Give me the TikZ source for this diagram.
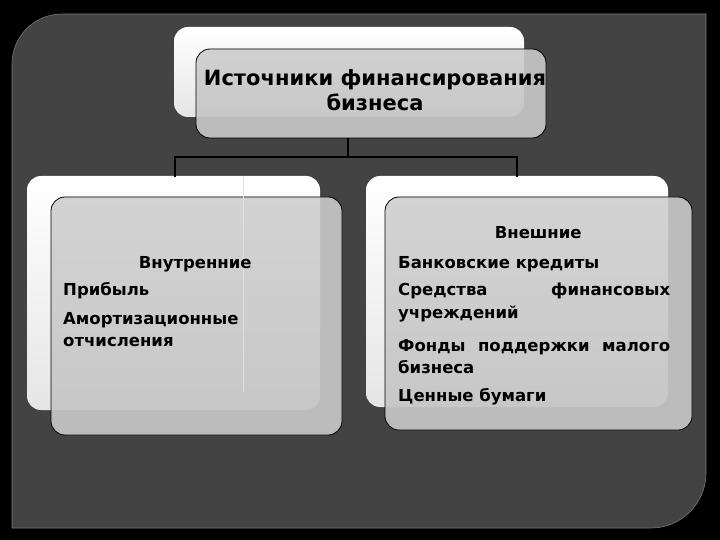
\documentclass[tikz,border=0pt]{standalone}
\usepackage{fontspec}
\setmainfont{DejaVu Sans}
\definecolor{panelgray}{RGB}{67,67,67}
\definecolor{boxlight}{RGB}{212,212,212}
\definecolor{boxdark}{RGB}{188,188,188}
\tikzset{
  panel/.style={fill=panelgray, draw=black!40!white!60!panelgray, line width=0.6pt},
  backbox/.style={rounded corners=14pt, top color=white, bottom color=white!90!black, draw=none},
  frontfill/.style={rounded corners=14pt, fill=boxdark, draw=none},
  frontline/.style={rounded corners=14pt, draw=black, line width=0.8pt},
  overlap/.style={rounded corners=14pt, top color=boxlight, bottom color=boxlight!94!black},
  conn/.style={draw=black, line width=2pt},
  txt/.style={inner sep=0pt, anchor=base west, text=black, font=\bfseries},
}
\begin{document}
\begin{tikzpicture}[x=1pt,y=-1pt]
\useasboundingbox (0,0) rectangle (720,540);
\fill[black] (0,0) rectangle (720,540);
% panel
\path[panel] (12,528) -- (12,64) arc[start angle=180,end angle=270,radius=50] -- (706,14) -- (706,473) arc[start angle=0,end angle=90,radius=55] -- cycle;
% back (white) boxes
\path[backbox] (174,27) rectangle (524,117);
\path[backbox] (27,176) rectangle (320,410);
\path[backbox] (366,176) rectangle (668,407);
% connectors
\coordinate (j) at (348,157);
\coordinate (cl) at (175,177);
\coordinate (cr) at (517,177);
\coordinate (tb) at (348,138);
\draw[conn] (tb) -- (j);
\draw[conn] (cl) -- (cl |- j) -- (cr |- j) -- (cr);
% front (gray) boxes: darker where over panel, lighter where over white box
\path[frontfill] (196,49) rectangle (546,138);
\begin{scope}
  \clip[rounded corners=14pt] (196,49) rectangle (546,138);
  \path[overlap] (174,27) rectangle (524,117);
\end{scope}
\path[frontline] (196,49) rectangle (546,138);
\path[frontfill] (51,197) rectangle (342,435);
\begin{scope}
  \clip[rounded corners=14pt] (51,197) rectangle (342,435);
  \path[overlap] (27,176) rectangle (320,410);
\end{scope}
\path[frontline] (51,197) rectangle (342,435);
\path[frontfill] (385,197) rectangle (692,430);
\begin{scope}
  \clip[rounded corners=14pt] (385,197) rectangle (692,430);
  \path[overlap] (366,176) rectangle (668,407);
\end{scope}
\path[frontline] (385,197) rectangle (692,430);
% faint line in left box
\coordinate (fl1) at (243,176);
\coordinate (fl2) at (243,392);
\draw[white!88!black, line width=0.8pt] (fl1) -- (fl2);
% texts
\node[txt, anchor=base] (title) at (375,86) {\parbox[t]{380pt}{\centering\fontsize{21}{25}\selectfont Источники финансирования\\ бизнеса}};
\node[txt] (inner) at (63,268) {\parbox[t]{264pt}{\fontsize{16.5}{22}\selectfont
\makebox[264pt]{Внутренние}\\[6pt]
Прибыль\\[6pt]
Амортизационные\\
отчисления}};
\node[txt] (outer) at (398,238) {\parbox[t]{272pt}{\fontsize{16.5}{22}\selectfont
\makebox[272pt]{\hspace{8pt}Внешние}\\[8pt]
Банковские кредиты\\[6pt]
\makebox[272pt][s]{Средства\hfill финансовых}\\[1pt]
учреждений\\[10pt]
\makebox[272pt][s]{Фонды\hfill поддержки\hfill малого}\\
бизнеса\\[7pt]
Ценные бумаги}};
\end{tikzpicture}
\end{document}
